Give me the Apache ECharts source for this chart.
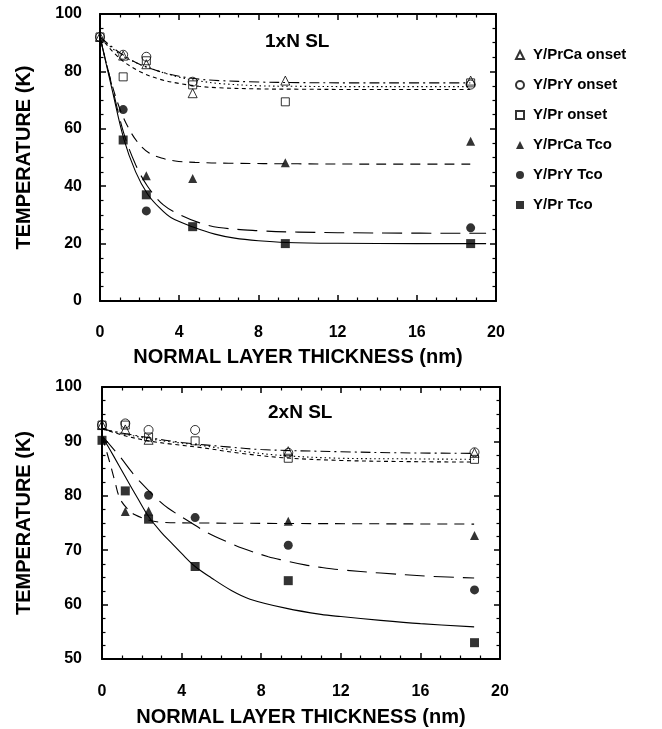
<!DOCTYPE html>
<html><head><meta charset="utf-8">
<script src="https://cdn.jsdelivr.net/npm/echarts@6/dist/echarts.min.js"></script>
<style>html,body{margin:0;padding:0;background:#fff}#c{width:662px;height:729px}</style>
</head><body><div id="c"></div>
<script>
// ---------- data ----------
const thickness = [0, 1.17, 2.34, 4.68, 9.36, 18.72];
const seriesNames = ['Y/PrCa onset', 'Y/PrY onset', 'Y/Pr onset', 'Y/PrCa Tco', 'Y/PrY Tco', 'Y/Pr Tco'];
const xTickLabels = [0, 4, 8, 12, 16, 20];
const yTickLabelsTop = [0, 20, 40, 60, 80, 100];
const yTickLabelsBottom = [50, 60, 70, 80, 90, 100];

// 1xN SL measured points
const top_PrCa_onset = [92, 85.5, 82.5, 72.4, 76.8, 76.8];
const top_PrY_onset  = [92, 85.8, 85.1, 76.4, null, 75.4];
const top_Pr_onset   = [92, 78.1, 83.7, 75.3, 69.4, 76.0];
const top_PrCa_Tco   = [null, null, 43.6, 42.7, 48.2, 55.7];
const top_PrY_Tco    = [null, 66.7, 31.4, null, null, 25.5];
const top_Pr_Tco     = [null, 56.1, 37.0, 25.9, 20.0, 20.0];

// 2xN SL measured points
const bot_PrCa_onset = [93, 92.2, 90.3, null, 88.2, 87.9];
const bot_PrY_onset  = [93, 93.3, 92.1, 92.1, 87.9, 88.0];
const bot_Pr_onset   = [93, 93.0, 90.8, 90.1, 86.9, 86.7];
const bot_PrCa_Tco   = [null, 77.1, 77.2, null, 75.3, 72.7];
const bot_PrY_Tco    = [null, null, 80.1, 76.0, 70.9, 62.7];
const bot_Pr_Tco     = [90.2, 80.9, 75.7, 67.0, 64.4, 53.0];

// fitted curves (1xN)
const topFit_onset_x      = [0, 1, 2, 3, 4, 5, 6, 8, 10, 13, 16, 18.7];
const topFit_PrCa_onset_y = [92, 86.5, 82.5, 80, 78.3, 77.3, 76.8, 76.3, 76.1, 76, 76, 76];
const topFit_PrY_onset_y  = [92, 86, 82.5, 80, 78, 76.7, 75.8, 75, 74.8, 74.7, 74.7, 74.7];
const topFit_Pr_onset_y   = [92, 84.5, 80, 77.3, 75.8, 74.8, 74.3, 73.9, 73.8, 73.7, 73.7, 73.7];
const topFit_PrCa_Tco_x   = [0, 0.5, 1.0, 1.5, 2.0, 2.5, 3.1, 3.8, 4.8, 6.5, 10, 14, 18.7];
const topFit_PrCa_Tco_y   = [92, 78, 67, 59.5, 54.5, 51.5, 49.8, 48.8, 48.3, 48, 47.8, 47.7, 47.7];
const topFit_PrY_Tco_x    = [0, 0.6, 1.2, 1.8, 2.4, 3.2, 4.2, 5, 6, 8, 10, 14, 19.5];
const topFit_PrY_Tco_y    = [92, 75, 58.5, 47.5, 40, 33.5, 29.5, 27.3, 25.6, 24.5, 24, 23.7, 23.6];
const topFit_Pr_Tco_x     = [0, 0.6, 1.2, 1.8, 2.4, 3, 3.6, 4.7, 5.8, 6.8, 8, 9.4, 12, 16, 19.5];
const topFit_Pr_Tco_y     = [92, 74, 56.5, 45, 37.3, 32.5, 29, 25.8, 23.3, 21.9, 21, 20.4, 20.1, 20, 20];

// fitted curves (2xN)
const botFit_PrCa_onset_x = [0, 1.2, 2.34, 4, 6.3, 8, 12, 15, 18.7];
const botFit_PrCa_onset_y = [92.3, 91.4, 90.7, 89.8, 89.0, 88.5, 88.1, 87.9, 87.8];
const botFit_onset_x      = [0, 1.2, 2.34, 3.5, 4.9, 7, 9.1, 12, 15, 18.7];
const botFit_PrY_onset_y  = [92.3, 91.3, 90.5, 89.9, 89.3, 88.2, 87.4, 86.9, 86.8, 86.7];
const botFit_Pr_onset_y   = [92.3, 91.0, 90.1, 89.5, 88.9, 87.8, 87.0, 86.5, 86.3, 86.2];
const botFit_PrCa_Tco_x   = [0, 0.4, 0.65, 0.9, 1.3, 1.66, 2.3, 3.1, 5, 10, 18.7];
const botFit_PrCa_Tco_y   = [91, 86, 82.6, 79.5, 77.5, 76.5, 75.6, 75.1, 75, 74.9, 74.8];
const botFit_PrY_Tco_x    = [0, 0.9, 1.49, 1.91, 2.83, 3.33, 4.5, 5.26, 6.43, 7.1, 8.36, 9.03, 10.2, 11, 12, 14, 16.5, 18.7];
const botFit_PrY_Tco_y    = [91, 87.2, 84.4, 82.6, 79.2, 77.7, 75, 73.3, 71.3, 70.3, 68.8, 68.2, 67.3, 66.85, 66.4, 65.8, 65.2, 64.9];
const botFit_Pr_Tco_x     = [0, 0.6, 1.2, 1.8, 2.34, 3, 3.5, 4, 4.68, 5.5, 6.5, 7.44, 9.28, 11, 12, 14, 16, 18.7];
const botFit_Pr_Tco_y     = [91, 87.2, 83.3, 79.5, 76.2, 73.2, 71.3, 69.4, 67, 64.9, 62.6, 61.0, 59.3, 58.2, 57.8, 57.1, 56.5, 55.9];

// ---------- helpers ----------
const FONT = 'Liberation Sans';
const pairs = (xs, ys) => xs.map((x, i) => [x, ys[i]]).filter(p => p[1] != null);

const markerStyle = {
  'Y/PrCa onset': {symbol: 'triangle', filled: false, size: 9},
  'Y/PrY onset':  {symbol: 'circle', filled: false, size: 9},
  'Y/Pr onset':   {symbol: 'rect', filled: false, size: 8},
  'Y/PrCa Tco':   {symbol: 'triangle', filled: true, size: 9},
  'Y/PrY Tco':    {symbol: 'circle', filled: true, size: 9},
  'Y/Pr Tco':     {symbol: 'rect', filled: true, size: 9}
};
const lineTypes = {
  'Y/PrCa onset': [10, 4, 2, 4],
  'Y/PrY onset':  [1.5, 3],
  'Y/Pr onset':   [4, 3.5],
  'Y/PrCa Tco':   [10, 7],
  'Y/PrY Tco':    [20, 9],
  'Y/Pr Tco':     'solid'
};

function scatter(name, idx, ys) {
  const m = markerStyle[name];
  return {
    name, type: 'scatter', xAxisIndex: idx * 2, yAxisIndex: idx * 2,
    symbol: m.symbol, symbolSize: m.size, z: 5,
    itemStyle: m.filled ? {color: '#000', borderColor: '#000', borderWidth: 0}
                        : {color: 'rgba(255,255,255,0)', borderColor: '#000', borderWidth: 1},
    emphasis: {disabled: true},
    data: pairs(thickness, ys)
  };
}
function fit(name, idx, xs, ys) {
  return {
    name: name + ' fit ' + idx, type: 'line', xAxisIndex: idx * 2, yAxisIndex: idx * 2,
    showSymbol: false, symbol: 'none', smooth: 0.35, z: 3,
    lineStyle: {color: '#000', width: 1.1, type: lineTypes[name]},
    emphasis: {disabled: true}, silent: true,
    data: pairs(xs, ys)
  };
}

const labelStyle = {fontFamily: FONT, fontWeight: 'bold', fontSize: 16, color: '#000'};
const nameStyle = {fontFamily: FONT, fontWeight: 'bold', fontSize: 20, color: '#000'};

function xAxes(g, nameGap, margin) {
  const base = {
    type: 'value', gridIndex: g, min: 0, max: 20, interval: 4,
    axisLine: {show: true, onZero: false, lineStyle: {color: '#000', width: 2}},
    axisTick: {show: true, inside: true, length: 6, lineStyle: {color: '#000', width: 1.5}},
    minorTick: {show: true, splitNumber: 4, length: 3.5, lineStyle: {color: '#000', width: 1.2}},
    splitLine: {show: false}, minorSplitLine: {show: false}
  };
  return [
    Object.assign({}, base, {position: 'bottom',
      axisLabel: Object.assign({margin}, labelStyle),
      name: 'NORMAL LAYER THICKNESS (nm)', nameLocation: 'middle', nameGap, nameTextStyle: nameStyle}),
    Object.assign({}, base, {position: 'top', axisLabel: {show: false}})
  ];
}
function yAxes(g, min, max, interval, margin, nameGap) {
  const base = {
    type: 'value', gridIndex: g, min, max, interval,
    axisLine: {show: true, onZero: false, lineStyle: {color: '#000', width: 2}},
    axisTick: {show: true, inside: true, length: 6, lineStyle: {color: '#000', width: 1.5}},
    minorTick: {show: true, splitNumber: 4, length: 3.5, lineStyle: {color: '#000', width: 1.2}},
    splitLine: {show: false}, minorSplitLine: {show: false}
  };
  return [
    Object.assign({}, base, {position: 'left',
      axisLabel: Object.assign({margin}, labelStyle),
      name: 'TEMPERATURE (K)', nameLocation: 'middle', nameGap, nameRotate: 90, nameTextStyle: nameStyle}),
    Object.assign({}, base, {position: 'right', axisLabel: {show: false}})
  ];
}

const series = [
  fit('Y/PrCa onset', 0, topFit_onset_x, topFit_PrCa_onset_y),
  fit('Y/PrY onset', 0, topFit_onset_x, topFit_PrY_onset_y),
  fit('Y/Pr onset', 0, topFit_onset_x, topFit_Pr_onset_y),
  fit('Y/PrCa Tco', 0, topFit_PrCa_Tco_x, topFit_PrCa_Tco_y),
  fit('Y/PrY Tco', 0, topFit_PrY_Tco_x, topFit_PrY_Tco_y),
  fit('Y/Pr Tco', 0, topFit_Pr_Tco_x, topFit_Pr_Tco_y),
  fit('Y/PrCa onset', 1, botFit_PrCa_onset_x, botFit_PrCa_onset_y),
  fit('Y/PrY onset', 1, botFit_onset_x, botFit_PrY_onset_y),
  fit('Y/Pr onset', 1, botFit_onset_x, botFit_Pr_onset_y),
  fit('Y/PrCa Tco', 1, botFit_PrCa_Tco_x, botFit_PrCa_Tco_y),
  fit('Y/PrY Tco', 1, botFit_PrY_Tco_x, botFit_PrY_Tco_y),
  fit('Y/Pr Tco', 1, botFit_Pr_Tco_x, botFit_Pr_Tco_y),
  scatter('Y/PrCa onset', 0, top_PrCa_onset),
  scatter('Y/PrY onset', 0, top_PrY_onset),
  scatter('Y/Pr onset', 0, top_Pr_onset),
  scatter('Y/PrCa Tco', 0, top_PrCa_Tco),
  scatter('Y/PrY Tco', 0, top_PrY_Tco),
  scatter('Y/Pr Tco', 0, top_Pr_Tco),
  scatter('Y/PrCa onset', 1, bot_PrCa_onset),
  scatter('Y/PrY onset', 1, bot_PrY_onset),
  scatter('Y/Pr onset', 1, bot_Pr_onset),
  scatter('Y/PrCa Tco', 1, bot_PrCa_Tco),
  scatter('Y/PrY Tco', 1, bot_PrY_Tco),
  scatter('Y/Pr Tco', 1, bot_Pr_Tco)
];

const chart = echarts.init(document.getElementById('c'), null, {renderer: 'canvas'});
chart.setOption({
  animation: false,
  backgroundColor: '#fff',
  title: [
    {text: '1xN SL', left: 265, top: 32, padding: 0,
     textStyle: {fontFamily: FONT, fontWeight: 'bold', fontSize: 19, color: '#000'}},
    {text: '2xN SL', left: 268, top: 403, padding: 0,
     textStyle: {fontFamily: FONT, fontWeight: 'bold', fontSize: 19, color: '#000'}}
  ],
  legend: {
    orient: 'vertical', left: 515, top: 47, itemWidth: 8, itemHeight: 8, itemGap: 14,
    selectedMode: false, padding: 0,
    data: seriesNames,
    textStyle: {fontFamily: FONT, fontWeight: 'bold', fontSize: 15, color: '#000', lineHeight: 16, padding: [0, 0, 0, 4]}
  },
  grid: [
    {left: 100, top: 14, width: 396, height: 287},
    {left: 102, top: 387, width: 398, height: 272}
  ],
  xAxis: [...xAxes(0, 46, 24), ...xAxes(1, 48, 25)],
  yAxis: [...yAxes(0, 0, 100, 20, 18, 66), ...yAxes(1, 50, 100, 10, 20, 68)],
  series
});
</script></body></html>
